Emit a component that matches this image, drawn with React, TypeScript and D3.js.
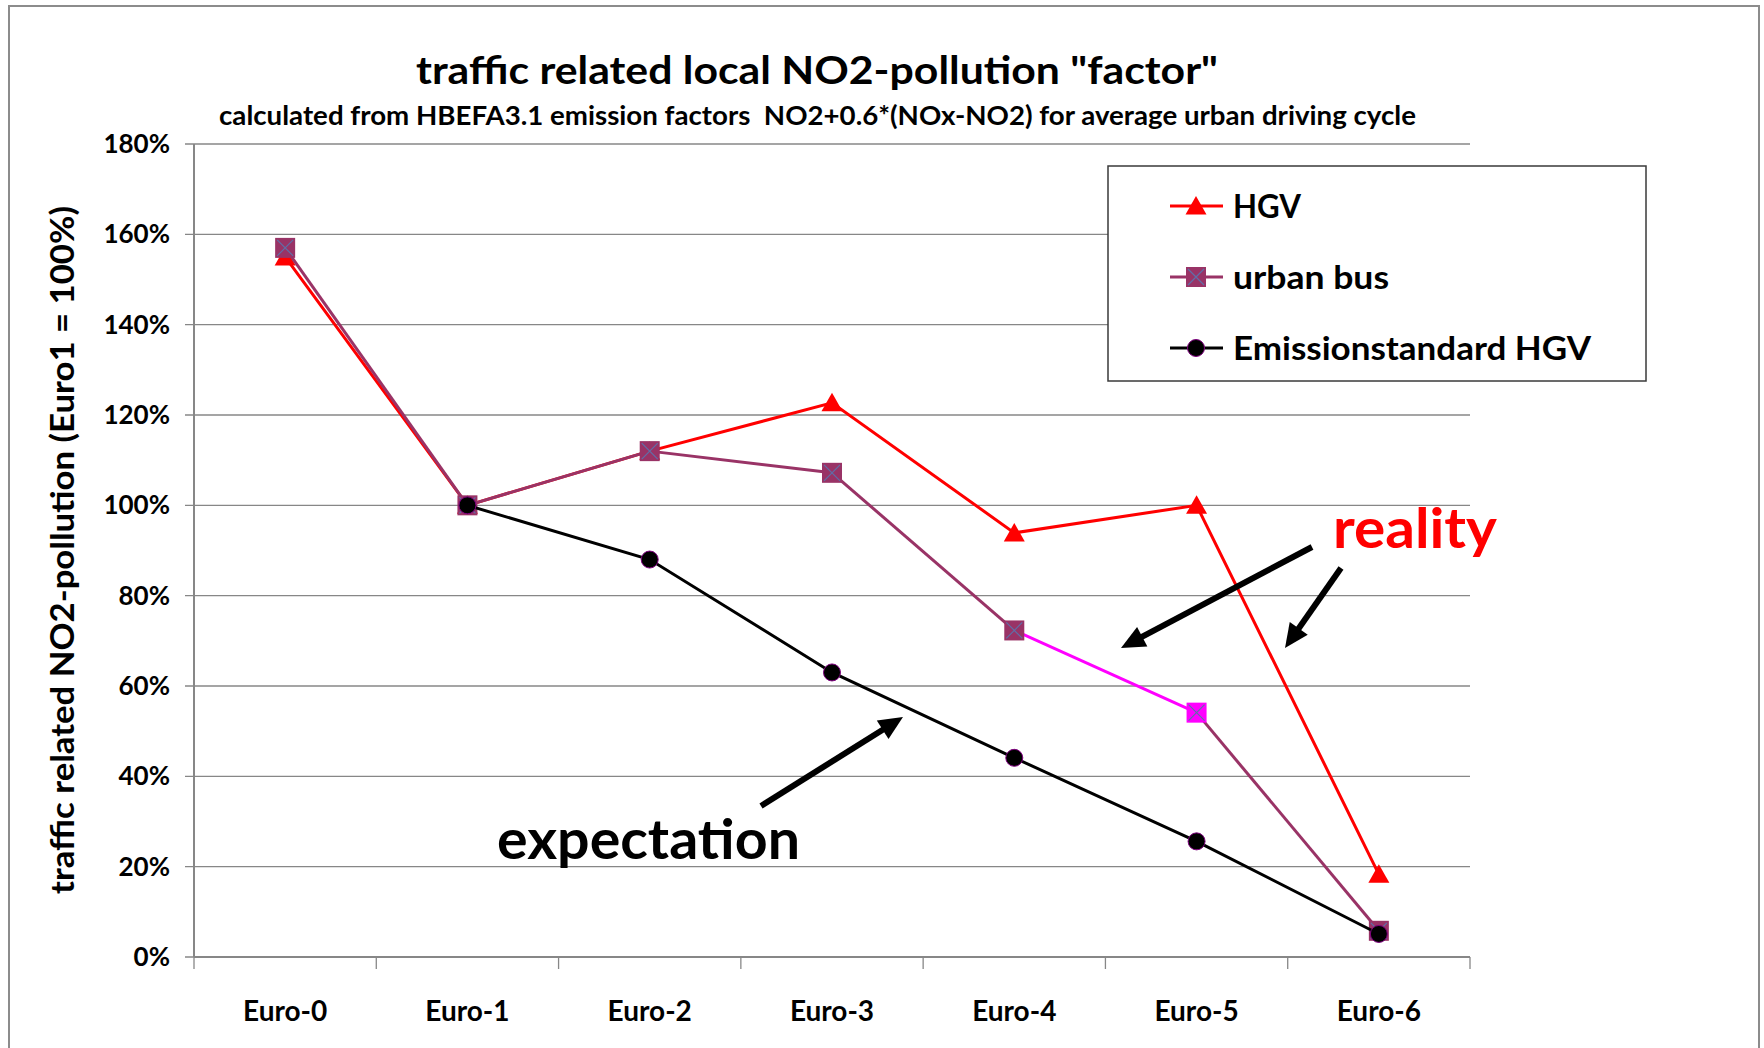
import React from "react";
import * as d3 from "d3";

const categories = ["Euro-0", "Euro-1", "Euro-2", "Euro-3", "Euro-4", "Euro-5", "Euro-6"];
const hgvValues = [155, 100, 112, 122.7, 93.9, 100, 18.3];
const urbanBusValues = [157, 100, 112, 107.2, 72.3, 54.1, 5.8];
const emissionStdValues: (number | null)[] = [null, 100, 88, 63, 44.1, 25.6, 5.1];
const highlightedBusIndex = 5;
const yTicks = [0, 20, 40, 60, 80, 100, 120, 140, 160, 180];

const titleText = 'traffic related local NO2-pollution "factor"';
const subtitleText = "calculated from HBEFA3.1 emission factors  NO2+0.6*(NOx-NO2) for average urban driving cycle";
const yLabelText = "traffic related NO2-pollution (Euro1 = 100%)";
const legendItems = [
  { key: "hgv", label: "HGV", width: 68 },
  { key: "bus", label: "urban bus", width: 156 },
  { key: "std", label: "Emissionstandard HGV", width: 358 },
];
const annotationArrows = [
  { x1: 1312, y1: 547, x2: 1121, y2: 648 },
  { x1: 1341, y1: 568, x2: 1285, y2: 648 },
  { x1: 761, y1: 806, x2: 903, y2: 717 },
];

const W = 1764;
const H = 1048;
const FONT = "Lato, 'Open Sans', sans-serif";
const RED = "#FF0000";
const PURPLE = "#993366";
const MAGENTA = "#FF00FF";
const XCOL = "#5F6FA8";
const GRID = "#878787";

const plot = { left: 194, right: 1470, top: 144, bottom: 957 };

function Triangle({ x, y }: { x: number; y: number }) {
  return <path d={`M${x},${y - 10}L${x + 10.5},${y + 8.5}L${x - 10.5},${y + 8.5}Z`} fill={RED} />;
}
function Square({ x, y, fill }: { x: number; y: number; fill: string }) {
  const s = 10;
  return (
    <g>
      <rect x={x - s} y={y - s} width={2 * s} height={2 * s} fill={fill} />
      <path d={`M${x - s + 2},${y - s + 2}L${x + s - 2},${y + s - 2}M${x + s - 2},${y - s + 2}L${x - s + 2},${y + s - 2}`} stroke={XCOL} strokeWidth={1.2} />
    </g>
  );
}
function Dot({ x, y }: { x: number; y: number }) {
  return <circle cx={x} cy={y} r={8.5} fill="#000" stroke="#800080" strokeWidth={1} />;
}
function Arrow({ x1, y1, x2, y2 }: { x1: number; y1: number; x2: number; y2: number }) {
  const a = Math.atan2(y2 - y1, x2 - x1);
  const hl = 24, hw = 11;
  const bx = x2 - hl * Math.cos(a), by = y2 - hl * Math.sin(a);
  const px = -Math.sin(a), py = Math.cos(a);
  return (
    <g>
      <line x1={x1} y1={y1} x2={bx + 2 * Math.cos(a)} y2={by + 2 * Math.sin(a)} stroke="#000" strokeWidth={6} />
      <path d={`M${x2},${y2}L${bx + hw * px},${by + hw * py}L${bx - hw * px},${by - hw * py}Z`} fill="#000" />
    </g>
  );
}

export default function App() {
  const x = d3.scaleBand<string>().domain(categories).range([plot.left, plot.right]).padding(0);
  const y = d3.scaleLinear().domain([0, 180]).range([plot.bottom, plot.top]);
  const cx = (c: string) => (x(c) as number) + x.bandwidth() / 2;
  const boundaries = [...categories.map((c) => x(c) as number), plot.right];

  const line = d3
    .line<{ c: string; v: number | null }>()
    .defined((d) => d.v != null)
    .x((d) => cx(d.c))
    .y((d) => y(d.v as number));

  const hgvData = categories.map((c, i) => ({ c, v: hgvValues[i] }));
  const busData = categories.map((c, i) => ({ c, v: urbanBusValues[i] }));
  const stdData = categories.map((c, i) => ({ c, v: emissionStdValues[i] }));

  const legendX = 1196;
  const legendRows = [206, 277, 348];

  return (
    <svg width={W} height={H} style={{ position: "absolute", left: 0, top: 0 }} fontFamily={FONT} fontWeight="bold">
      <rect x={0} y={0} width={W} height={H} fill="#fff" />
      <rect x={9} y={6} width={1750} height={1100} fill="#fff" stroke="#8c8c8c" strokeWidth={2} />

      <text x={416} y={84} fontSize={39} textLength={802} lengthAdjust="spacingAndGlyphs" fill="#000">{titleText}</text>
      <text x={219} y={125} fontSize={27} textLength={1197} lengthAdjust="spacingAndGlyphs" fill="#000" style={{ whiteSpace: "pre" }}>{subtitleText}</text>

      {yTicks.map((t) => (
        <g key={t}>
          <line x1={plot.left - 9} x2={plot.right} y1={y(t)} y2={y(t)} stroke={GRID} strokeWidth={1.3} />
          <text x={170} y={y(t) + 9} fontSize={26} textAnchor="end" fill="#000">{`${t}%`}</text>
        </g>
      ))}
      <line x1={plot.left} x2={plot.left} y1={plot.top} y2={plot.bottom} stroke={GRID} strokeWidth={2} />
      <line x1={plot.left} x2={plot.right} y1={plot.bottom} y2={plot.bottom} stroke={GRID} strokeWidth={2} />
      {boundaries.map((b, i) => (
        <line key={i} x1={b} x2={b} y1={plot.bottom} y2={plot.bottom + 12} stroke={GRID} strokeWidth={1.3} />
      ))}
      {categories.map((c) => (
        <text key={c} x={cx(c)} y={1021} fontSize={28} textAnchor="middle" fill="#000">{c}</text>
      ))}

      <text
        transform={`translate(74,550) rotate(-90)`}
        fontSize={32}
        textAnchor="middle"
        textLength={688}
        lengthAdjust="spacingAndGlyphs"
        fill="#000"
      >
        {yLabelText}
      </text>

      {/* HGV */}
      <path d={line(hgvData) || ""} fill="none" stroke={RED} strokeWidth={3} />
      {hgvData.map((d) => <Triangle key={d.c} x={cx(d.c)} y={y(d.v)} />)}

      {/* urban bus */}
      {busData.slice(0, -1).map((d, i) => {
        const n = busData[i + 1];
        return (
          <line
            key={d.c}
            x1={cx(d.c)}
            y1={y(d.v)}
            x2={cx(n.c)}
            y2={y(n.v)}
            stroke={i + 1 === highlightedBusIndex ? MAGENTA : PURPLE}
            strokeWidth={3}
          />
        );
      })}
      {busData.map((d, i) => (
        <Square key={d.c} x={cx(d.c)} y={y(d.v)} fill={i === highlightedBusIndex ? MAGENTA : PURPLE} />
      ))}

      {/* emission standard */}
      <path d={line(stdData) || ""} fill="none" stroke="#000" strokeWidth={3} />
      {stdData.filter((d) => d.v != null).map((d) => <Dot key={d.c} x={cx(d.c)} y={y(d.v as number)} />)}

      {/* legend */}
      <rect x={1108} y={166} width={538} height={215} fill="#fff" stroke="#3a3a3a" strokeWidth={1.5} />
      {legendItems.map((it, i) => {
        const ry = legendRows[i];
        const color = it.key === "hgv" ? RED : it.key === "bus" ? PURPLE : "#000";
        return (
          <g key={it.key}>
            <line x1={1170} x2={1223} y1={ry} y2={ry} stroke={color} strokeWidth={3} />
            {it.key === "hgv" && <Triangle x={legendX} y={ry} />}
            {it.key === "bus" && <Square x={legendX} y={ry} fill={PURPLE} />}
            {it.key === "std" && <Dot x={legendX} y={ry} />}
            <text x={1233} y={ry + 12} fontSize={32} textLength={it.width} lengthAdjust="spacingAndGlyphs" fill="#000">{it.label}</text>
          </g>
        );
      })}

      {/* annotations */}
      <text x={1333} y={548} fontSize={56} textLength={164} lengthAdjust="spacingAndGlyphs" fill={RED}>reality</text>
      <text x={497} y={859} fontSize={55} textLength={303} lengthAdjust="spacingAndGlyphs" fill="#000">expectation</text>
      {annotationArrows.map((a, i) => <Arrow key={i} {...a} />)}
    </svg>
  );
}
